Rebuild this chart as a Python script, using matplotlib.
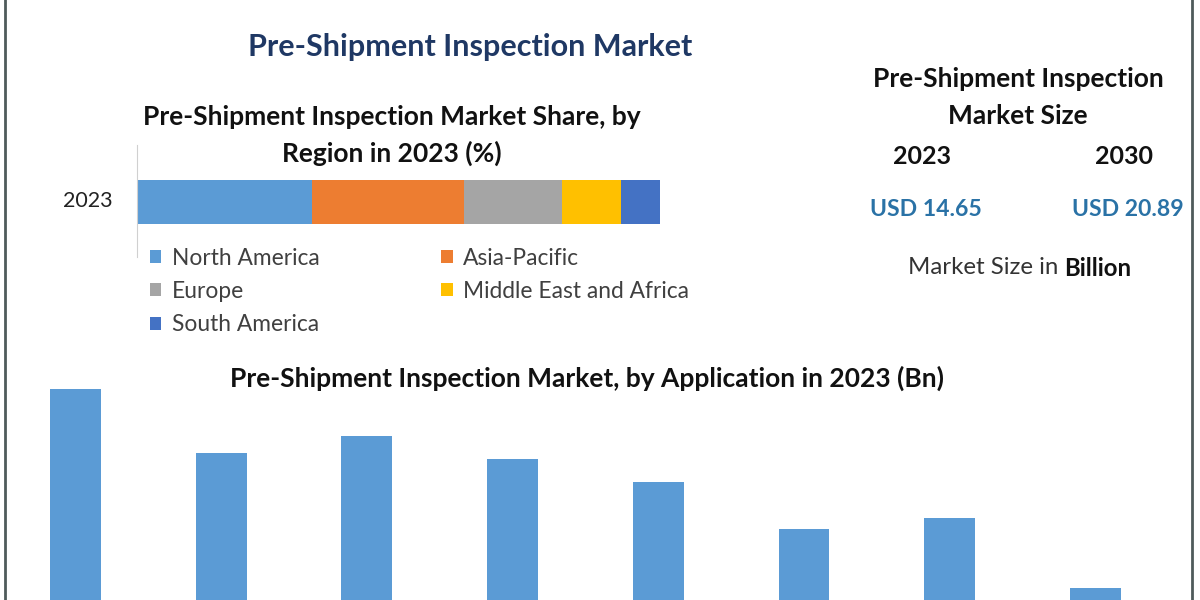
import matplotlib.pyplot as plt

plt.rcParams['font.family'] = ['Lato', 'DejaVu Sans']

# Region shares 2023 (%)
regions = ['North America', 'Asia-Pacific', 'Europe', 'Middle East and Africa', 'South America']
shares = [33.5, 29.0, 18.8, 11.2, 7.5]
region_colors = ['#5B9BD5', '#ED7D31', '#A5A5A5', '#FFC000', '#4472C4']

# Application values 2023 (Bn), labels not shown in the picture
app_values = [2.11, 1.47, 1.64, 1.41, 1.18, 0.71, 0.82, 0.12]

size_years = ['2023', '2030']
size_values = ['USD 14.65', 'USD 20.89']

W, H = 1200, 600
fig = plt.figure(figsize=(12, 6), dpi=100)
fig.patch.set_facecolor('white')


def px(x, y):
    return x / W, 1 - y / H


def put(x, y, s, **kw):
    fx, fy = px(x, y)
    fig.text(fx, fy, s, ha=kw.pop('ha', 'center'), va=kw.pop('va', 'center'), **kw)


# side borders
for bx in (5, 1192):
    fig.add_artist(plt.Line2D([bx / W, bx / W], [0, 1], color='#4F5B5B', lw=2))

# titles
put(470, 47, 'Pre-Shipment Inspection Market', fontsize=22, fontweight='bold', color='#1F3864')
put(392, 117, 'Pre-Shipment Inspection Market Share, by', fontsize=19, fontweight='bold', color='#111111')
put(392, 153, 'Region in 2023 (%)', fontsize=19, fontweight='bold', color='#111111')

# stacked share bar
ax1 = fig.add_axes([137 / W, 1 - 257 / H, 523 / W, 112 / H])
left = 0
bars = []
for name, v, c in zip(regions, shares, region_colors):
    b = ax1.barh(0, v, left=left, height=1, color=c, label=name)
    bars.append(b)
    left += v
ax1.set_xlim(0, sum(shares))
ax1.set_ylim(-1.25, 1.295)
for s in ['top', 'right', 'bottom']:
    ax1.spines[s].set_visible(False)
ax1.spines['left'].set_color('#D0D0D0')
ax1.set_xticks([])
ax1.set_yticks([])
put(88, 201, '2023', fontsize=15.5, color='#222222')

order = [0, 2, 4, 1, 3]
leg = fig.legend([bars[i] for i in order], [regions[i] for i in order], ncol=2,
                 loc='upper left', bbox_to_anchor=px(150, 248), frameon=False,
                 fontsize=16.4, handlelength=0.5, handleheight=0.5, handletextpad=0.45,
                 columnspacing=5.35, labelspacing=0.53, borderaxespad=0, borderpad=0)
for t in leg.get_texts():
    t.set_color('#404040')

# market size panel
put(1018, 79, 'Pre-Shipment Inspection', fontsize=19, fontweight='bold', color='#111111')
put(1018, 116, 'Market Size', fontsize=19, fontweight='bold', color='#111111')
for x, yr, val in zip([922, 1124], size_years, size_values):
    put(x, 156, yr, fontsize=18, fontweight='bold', color='#111111')
    put(x + 4, 209, val, fontsize=16.6, fontweight='bold', color='#2A72A6')
put(1064, 268, 'Market Size in ', ha='right', fontsize=17.3, color='#333333')
put(1064, 268, 'Billion', ha='left', fontsize=17.3, fontweight='bold', color='#111111')

# application bars
put(587, 378, 'Pre-Shipment Inspection Market, by Application in 2023 (Bn)',
    fontsize=19, fontweight='bold', color='#111111')
ax2 = fig.add_axes([0, 0, 1, 211 / H])
xs = list(range(len(app_values)))
ax2.bar(xs, app_values, width=0.35, color='#5B9BD5')
ax2.set_xlim(-75.5 / 145.7, (W - 75.5) / 145.7)
ax2.set_ylim(0, max(app_values))
ax2.axis('off')

fig.savefig('out.png', dpi=100)
